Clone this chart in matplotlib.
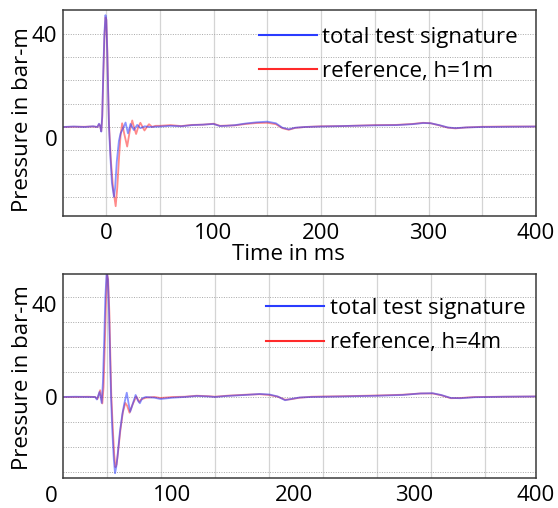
import numpy as np
import matplotlib
matplotlib.use("Agg")
import matplotlib.pyplot as plt
from matplotlib.transforms import ScaledTranslation

plt.rcParams['font.family'] = ['Open Sans', 'DejaVu Sans']

# --- upper panel (h = 1 m), time in ms ---
t1_blue = [-40, -30, -20, -12, -8, -6.5, -5.5, -4.4, -3.5, -2.5, -1.5, -0.5, 0.3, 1.2, 2.0,
           2.8, 4.0, 5.5, 7.4, 8.5, 10, 12, 13.6, 15.5, 18.2, 20.4, 22.8, 25.9, 29, 32,
           36, 40, 50, 60, 70, 80, 90, 100, 106, 112, 120, 130, 140, 150, 158,
           164, 170, 176, 185, 200, 220, 250, 270, 285, 295, 302, 310, 318, 325, 335,
           350, 375, 400]
p1_blue = [0, 0.2, 0, 0.3, 0, 1.4, 0.5, -2, 5, 24, 40, 48, 46, 32, 15,
           0, -12, -24, -30, -26, -15, -6, -2.7, -1, 1.9, -2.7, 1.3, -1.3, 0.9, -0.5,
           0.3, 0, 0.2, 0.5, 0.3, 0.8, 1.0, 1.3, 0.4, 0.5, 0.8, 1.5, 2.0, 2.3, 1.6,
           -0.3, -1.0, -0.3, 0, 0.2, 0.4, 0.7, 0.8, 1.2, 1.7, 1.6, 0.8, -0.2, -0.5, -0.2,
           0, 0.1, 0.2]
t1_red = [-40, -30, -20, -12, -8, -6.5, -5.5, -4.4, -3.5, -2.5, -1.5, -0.5, 0.3, 1.2, 2.0,
          2.8, 4.5, 6.5, 9, 10.5, 12, 13.5, 15, 17, 19.7, 22, 24.4, 26, 28, 30,
          32, 34, 35.8, 38, 40, 43, 46, 50, 60, 70, 80, 90, 100, 106, 112,
          120, 130, 140, 150, 158, 164, 170, 176, 185, 200, 220, 250, 270, 285, 295,
          302, 310, 318, 325, 335, 350, 375, 400]
p1_red = [0, 0.1, 0.1, 0.2, 0, 1.2, 0.4, -1.8, 4, 22, 38, 47, 46, 33, 16,
          1, -14, -26, -34, -26, -14, -4, 1.6, -3, -8.4, -2, 2.8, 0, -3, 0,
          1.8, 0, -1.5, 0, 1.2, 0, 0.5, 0.5, 0.8, 0.4, 0.9, 1.0, 1.4, 0.5, 0.6,
          0.7, 1.3, 1.7, 1.8, 1.2, -0.5, -1.2, -0.4, 0, 0.3, 0.4, 0.8, 0.9, 1.3, 1.8,
          1.6, 0.7, -0.3, -0.6, -0.2, 0.1, 0.2, 0.2]

# --- lower panel (h = 4 m), time on the printed axis labels ---
t2_blue = [9, 20, 30, 36, 37.5, 39.7, 41.5, 42.5, 43.5, 44.5, 45.6, 46.6, 47.6, 48.4, 49.2,
           50.3, 51.5, 52.5, 53.5, 54.5, 56.5, 58.5, 60, 62.2, 63.5, 65, 67, 69.5, 71.5, 73,
           75, 78, 85, 90, 100, 110, 120, 130, 135, 145, 160, 172, 180, 187, 193,
           198, 205, 215, 240, 270, 290, 305, 315, 322, 330, 338, 350, 375, 400.4]
p2_blue = [0, 0.1, 0, 0, -1, 2, -2.4, 6, 22, 40, 50, 47, 33, 16, 0,
           -14, -25, -30.5, -28, -24, -14, -7, -3, 1.7, -2, -5.9, -3, 0.8, -1.5, -2.5,
           -0.5, 0, -0.3, -0.8, -0.3, 0, 0.4, 0.2, 0, 0.4, 0.8, 1.2, 1.0, 0.2, -1.3,
           -0.8, -0.2, 0, 0.2, 0.5, 0.8, 1.4, 1.5, 0.8, -0.4, -0.5, -0.1, 0.1, 0.2]
t2_red = [9, 20, 30, 36, 38, 40.2, 42, 43, 44, 45, 45.8, 46.8, 47.8, 48.6, 49.4,
          50.6, 51.8, 52.8, 53.8, 55, 57, 59, 61, 62.5, 64.5, 67, 70, 72.5, 74, 78,
          85, 90, 100, 110, 120, 130, 135, 145, 160, 172, 180, 187, 193, 198, 205,
          215, 240, 270, 290, 305, 315, 322, 330, 338, 350, 375, 400.4]
p2_red = [0, 0, 0.1, 0, -0.8, 2.7, -2.6, 4, 20, 38, 49.5, 47, 34, 17, 1,
          -12, -23, -28.1, -27, -22, -13, -6, -2.4, -3.5, -6.3, -3, 0.2, -2, -1, -0.3,
          0, -0.4, 0, 0.1, 0.5, 0.3, 0.1, 0.5, 0.9, 1.1, 0.8, 0.1, -1.1, -0.9, -0.3,
          0.1, 0.3, 0.6, 0.9, 1.4, 1.4, 0.7, -0.5, -0.4, 0, 0.1, 0.2]

labels_top = ["total test signature", "reference, h=1m"]
labels_bot = ["total test signature", "reference, h=4m"]
xticks = [0, 100, 200, 300, 400]
yticks = [0, 40]

BLUE = '#2a3cff'
RED = '#ff2a2a'
FS = 16

fig = plt.figure(figsize=(5.58, 5.08), dpi=100)
ax1 = fig.add_axes([0.1129, 0.5748, 0.8477, 0.4055])
ax2 = fig.add_axes([0.1129, 0.0591, 0.8477, 0.4016])


def style(ax):
    for s in ax.spines.values():
        s.set_color('#3a3a3a')
        s.set_linewidth(1.1)
    ax.tick_params(which='both', length=0, labelsize=FS)
    ax.tick_params(axis='x', pad=5)
    ax.tick_params(axis='y', pad=4)
    ax.set_yticks(yticks)
    ax.set_yticks(np.arange(-30, 41, 10), minor=True)
    ax.grid(axis='y', which='both', color='#a8a8a8', linestyle=(0, (1, 1.5)), linewidth=0.7)
    ax.set_axisbelow(True)


def nudge(label, dy_px):
    label.set_transform(label.get_transform() + ScaledTranslation(0, dy_px / 100, fig.dpi_scale_trans))


# upper panel
ax1.plot(t1_red, p1_red, color=RED, lw=1.3, alpha=0.55)
ax1.plot(t1_blue, p1_blue, color=BLUE, lw=1.3, alpha=0.55)
ax1.plot([], [], color=BLUE, lw=1.5, label=labels_top[0])
ax1.plot([], [], color=RED, lw=1.5, label=labels_top[1])
ax1.set_xlim(-40, 400)
ax1.set_ylim(-38.2, 50.2)
style(ax1)
ax1.set_xticks(xticks)
ax1.set_xticks(np.arange(0, 401, 50), minor=True)
ax1.grid(axis='x', which='both', color='#d4d4d4', linestyle='-', linewidth=0.9)
ax1.set_xlabel("Time in ms", fontsize=FS)
ax1.xaxis.set_label_coords(0.476, -0.135)
ax1.set_ylabel("Pressure in bar-m", fontsize=FS)
ax1.yaxis.set_label_coords(-0.064, 0.47)
ax1.legend(loc='upper left', bbox_to_anchor=(0.414, 0.917), frameon=False, fontsize=FS,
           handlelength=2.6, handletextpad=0.25, labelspacing=0.56, borderpad=0, borderaxespad=0)

# lower panel: grid shared with the upper frame, labels shifted
ax2.plot(t2_red, p2_red, color=RED, lw=1.3, alpha=0.55)
ax2.plot(t2_blue, p2_blue, color=BLUE, lw=1.3, alpha=0.55)
ax2.plot([], [], color=BLUE, lw=1.5, label=labels_bot[0])
ax2.plot([], [], color=RED, lw=1.5, label=labels_bot[1])
ax2.set_xlim(9.5, 400.4)
ax2.set_ylim(-32.4, 49.2)
style(ax2)
ax2.set_xticks(xticks[1:])
ax2.set_xticks(np.arange(0, 351, 50) * 0.8926 + 45.9, minor=True)
ax2.grid(axis='x', which='minor', color='#d4d4d4', linestyle='-', linewidth=0.9)
ax2.text(xticks[0], -0.093, str(xticks[0]), transform=ax2.get_xaxis_transform(),
         ha='center', va='center', fontsize=FS, clip_on=False)
ax2.set_ylabel("Pressure in bar-m", fontsize=FS)
ax2.yaxis.set_label_coords(-0.064, 0.49)
ax2.legend(loc='upper left', bbox_to_anchor=(0.43, 0.882), frameon=False, fontsize=FS,
           handlelength=2.6, handletextpad=0.25, labelspacing=0.6, borderpad=0, borderaxespad=0)

fig.canvas.draw()
nudge(ax1.get_yticklabels()[0], -11)
nudge(ax2.get_yticklabels()[1], -7)

fig.savefig("out.png", dpi=100)
